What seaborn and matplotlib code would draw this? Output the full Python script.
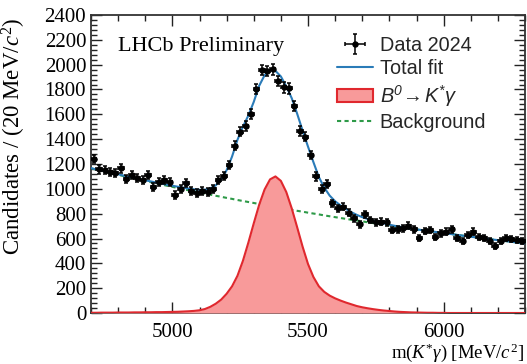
import numpy as np
import pandas as pd
import matplotlib
matplotlib.use("Agg")
import matplotlib.pyplot as plt
import seaborn as sns
from matplotlib.ticker import MultipleLocator
from matplotlib.patches import Patch
from matplotlib.lines import Line2D

# ---------------- data ----------------
mass_low = 4700
mass_high = 6300
bin_width = 20

counts = [1240, 1157, 1151, 1133, 1125, 1165, 1079, 1111, 1084, 1071,
          1111, 1017, 1057, 1071, 1052, 950, 996, 1049, 985, 969,
          985, 972, 996, 1071, 1103, 1192, 1347, 1460, 1508, 1600,
          1804, 1957, 1949, 1965, 1868, 1817, 1809, 1669, 1465, 1420,
          1272, 1100, 996, 1036, 883, 843, 856, 808, 762, 714,
          797, 749, 730, 735, 730, 668, 674, 682, 703, 674,
          606, 660, 668, 614, 641, 655, 674, 601, 582, 628,
          655, 614, 606, 580, 542, 580, 606, 596, 588, 582]

# fit curves sampled every 20 MeV from 4700 to 6300
signal_curve = [2, 2, 3, 3, 3, 4, 4, 4, 5, 5, 6, 6, 7, 7, 8,
                9, 10, 12, 14, 17, 22, 32, 50, 75, 108, 155, 215, 300, 420, 566,
                722, 872, 995, 1076, 1100, 1064, 974, 843, 691, 535,
                395, 290, 215, 170, 140, 118, 100, 84, 70, 56, 46, 38, 31, 25,
                20, 16, 12, 9, 7, 5, 4, 3, 2, 2, 1, 1,
                0, 0, 0, 0, 0, 0, 0, 0, 0, 0, 0, 0, 0, 0, 0]

background_curve = [1165, 1154, 1144, 1134, 1123, 1113, 1103, 1093, 1083, 1073,
                    1063, 1054, 1044, 1035, 1025, 1016, 1007, 997, 988, 979,
                    970, 962, 953, 944, 936, 927, 919, 910, 902, 894,
                    886, 878, 870, 862, 854, 846, 838, 831, 823, 816,
                    808, 801, 794, 786, 779, 772, 765, 758, 751, 745,
                    738, 731, 724, 718, 711, 705, 698, 692, 686, 679,
                    673, 667, 661, 655, 649, 643, 637, 632, 626, 620,
                    614, 609, 603, 598, 592, 587, 582, 576, 571, 566, 561]

total_curve = [1167, 1156, 1147, 1137, 1126, 1117, 1107, 1097, 1088, 1078,
               1069, 1060, 1051, 1042, 1033, 1025, 1017, 1009, 1002, 996,
               992, 993, 1004, 1028, 1075, 1150, 1260, 1395, 1500, 1590,
               1700, 1830, 1915, 1955, 1950, 1905, 1825, 1730, 1605, 1470,
               1340, 1215, 1095, 1010, 945, 900, 866, 838, 812, 790,
               772, 757, 744, 732, 721, 711, 702, 694, 686, 679,
               673, 668, 662, 656, 650, 644, 638, 632, 626, 620,
               614, 609, 603, 598, 592, 587, 582, 576, 571, 566, 561]

legend_labels = ["Data 2024", "Total fit", r"$\mathsf{B^0\!\rightarrow K^{*}\gamma}$", "Background"]

# ---------------- derived tables ----------------
centers = mass_low + bin_width / 2 + bin_width * np.arange(len(counts))
data_df = pd.DataFrame({"m": centers, "n": counts})
data_df["err"] = np.sqrt(data_df["n"])
grid = mass_low + bin_width * np.arange(len(total_curve))
curves = pd.DataFrame({"m": grid, "sig": signal_curve,
                       "bkg": background_curve, "tot": total_curve})

# ---------------- style ----------------
sns.set_theme(style="ticks")
plt.rcParams["font.family"] = ["Liberation Serif", "DejaVu Serif"]
plt.rcParams["mathtext.fontset"] = "custom"
plt.rcParams["mathtext.rm"] = "Liberation Serif"
plt.rcParams["mathtext.it"] = "Liberation Serif:italic"
plt.rcParams["mathtext.bf"] = "Liberation Serif:bold"
plt.rcParams["mathtext.sf"] = "Liberation Sans:italic"

blue = "#2a7bb8"
red = "#e0282e"
fill = "#f89a9a"
green = "#2e9a48"

fig = plt.figure(figsize=(5.27, 3.64), dpi=100)
ax = fig.add_axes([91 / 527, 51 / 364, 434 / 527, 298 / 364])

sns.lineplot(data=curves, x="m", y="bkg", ax=ax, color=green, lw=1.5,
             linestyle=(0, (2.0, 1.6)), zorder=2)
ax.fill_between(curves["m"], curves["sig"], color=fill, lw=0, zorder=3)
sns.lineplot(data=curves, x="m", y="sig", ax=ax, color=red, lw=1.5, zorder=4)
sns.lineplot(data=curves, x="m", y="tot", ax=ax, color=blue, lw=1.5, zorder=5)
eb = ax.errorbar(data_df["m"], data_df["n"], yerr=data_df["err"], xerr=bin_width / 2,
                 fmt="o", ms=3.6, color="black", elinewidth=1.1, capsize=1.5,
                 capthick=1.1, zorder=6)

ax.set_xlim(mass_low, mass_high)
ax.set_ylim(0, 2400)
ax.xaxis.set_major_locator(MultipleLocator(500))
ax.xaxis.set_minor_locator(MultipleLocator(100))
ax.yaxis.set_major_locator(MultipleLocator(200))
ax.yaxis.set_minor_locator(MultipleLocator(40))
ax.tick_params(which="both", direction="in", top=True, right=True,
               colors="#222222", labelcolor="black", labelsize=15, width=1.0)
ax.tick_params(which="major", length=8)
ax.tick_params(which="minor", length=4)
ax.tick_params(axis="x", pad=7.5)
ax.tick_params(axis="y", pad=3.5)
for s in ax.spines.values():
    s.set_color("#333333")
    s.set_linewidth(1.3)

ax.set_xlabel(r"m($K^{*}\gamma$) [MeV/$c^{2}$]", fontsize=13.5, loc="right", color="black")
ax.set_ylabel(r"Candidates / (20 MeV/$c^{2}$)", fontsize=16.5, loc="top", color="black")
ax.yaxis.set_label_coords(-0.146, 0.99)
ax.xaxis.set_label_coords(0.998, -0.094)

fig.text(118 / 527, 1 - 46 / 364, "LHCb Preliminary", fontsize=16,
         va="center", ha="left", color="black")

handles = [eb,
           Line2D([], [], color=blue, lw=1.5),
           Patch(facecolor=fill, edgecolor=red, lw=1.5),
           Line2D([], [], color=green, lw=1.5, linestyle=(0, (2.0, 1.6)))]
ax.legend(handles, legend_labels, loc="upper left",
          bbox_to_anchor=(337 / 527, 1 - 36 / 364), bbox_transform=fig.transFigure,
          frameon=False, prop={"family": ["Liberation Sans"], "size": 14.3},
          handlelength=1.8, handletextpad=0.35, labelspacing=0.22,
          borderpad=0, borderaxespad=0)

fig.savefig("out.png", dpi=100)
